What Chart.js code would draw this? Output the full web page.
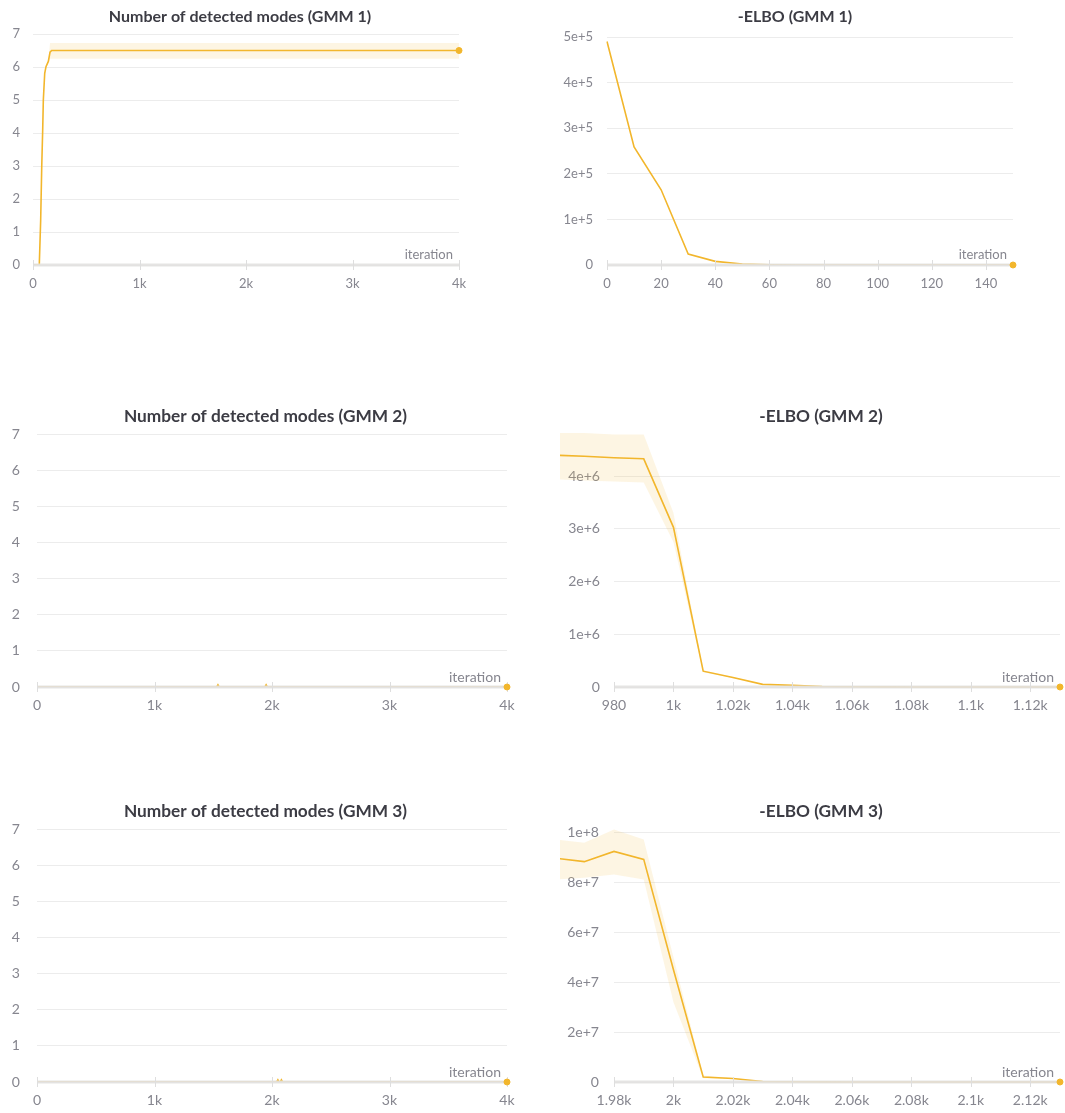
<!DOCTYPE html>
<html>
<head>
<meta charset="utf-8">
<script src="https://cdn.jsdelivr.net/npm/chart.js@4.4.1/dist/chart.umd.min.js"></script>
<style>
  html, body { margin: 0; padding: 0; background: #fff; overflow: hidden; }
  body { width: 1065px; height: 1113px; position: relative; }
  canvas { position: absolute; }
</style>
</head>
<body>
<canvas id="modes1"></canvas>
<canvas id="elbo1"></canvas>
<canvas id="modes2"></canvas>
<canvas id="elbo2"></canvas>
<canvas id="modes3"></canvas>
<canvas id="elbo3"></canvas>
<script>
// ---------- data ----------
// GMM 1: number of detected modes (mean over runs) and min/max band
const modes1Iter  = [0, 50, 59, 72, 82, 91, 97, 110, 122, 144, 160, 175, 1000, 2000, 3000, 4000];
const modes1Mean  = [0, 0, 0, 1.35, 2.97, 4.09, 5.0, 5.81, 6.01, 6.17, 6.45, 6.5, 6.5, 6.5, 6.5, 6.5];
const modes1BandIter  = [144, 160, 4000];
const modes1BandLower = [6.12, 6.25, 6.25];
const modes1BandUpper = [6.2, 6.73, 6.73];

// GMM 2 / GMM 3: number of detected modes
const modes2Iter = [0, 1530, 1540, 1550, 1940, 1950, 1960, 4000];
const modes2Mean = [0, 0, 0.06, 0, 0, 0.06, 0, 0];
const modes3Iter = [0, 2040, 2050, 2060, 2070, 2080, 2090, 4000];
const modes3Mean = [0, 0, 0.06, 0, 0, 0.06, 0, 0];

// -ELBO, GMM 1
const elbo1Iter = [0, 10, 20, 30, 40, 50, 60, 70, 80, 90, 100, 110, 120, 130, 140, 150];
const elbo1Mean = [490000, 259000, 165000, 24000, 8000, 2200, 500, 0, 0, 0, 0, 0, 0, 0, 0, 0];

// -ELBO, GMM 2
const elbo2Iter  = [960, 970, 980, 990, 1000, 1010, 1020, 1030, 1040, 1050, 1060, 1070, 1080, 1090, 1100, 1110, 1120, 1130];
const elbo2Mean  = [4.40e6, 4.38e6, 4.35e6, 4.33e6, 3.03e6, 3.0e5, 1.8e5, 5.0e4, 3.0e4, 1.0e4, 4000, 2000, 1000, 0, 0, 0, 0, 0];
const elbo2Lower = [3.94e6, 3.92e6, 3.90e6, 3.88e6, 2.75e6, 2.8e5, 1.7e5, 4.6e4, 2.8e4, 9000, 3500, 1800, 900, 0, 0, 0, 0, 0];
const elbo2Upper = [4.82e6, 4.82e6, 4.79e6, 4.79e6, 3.30e6, 3.2e5, 1.9e5, 5.4e4, 3.2e4, 1.1e4, 4500, 2200, 1100, 0, 0, 0, 0, 0];

// -ELBO, GMM 3
const elbo3Iter  = [1960, 1970, 1980, 1990, 2000, 2010, 2020, 2030, 2040, 2050, 2060, 2070, 2080, 2090, 2100, 2110, 2120, 2130];
const elbo3Mean  = [8.98e7, 8.84e7, 9.25e7, 8.93e7, 4.5e7, 2.0e6, 1.4e6, 2.0e5, 1.0e5, 5.0e4, 0, 0, 0, 0, 0, 0, 0, 0];
const elbo3Lower = [8.12e7, 8.19e7, 8.32e7, 8.12e7, 3.2e7, 1.5e6, 1.2e6, 1.6e5, 8.0e4, 4.0e4, 0, 0, 0, 0, 0, 0, 0, 0];
const elbo3Upper = [9.73e7, 9.60e7, 1.013e8, 9.73e7, 5.0e7, 2.6e6, 1.6e6, 2.4e5, 1.2e5, 6.0e4, 0, 0, 0, 0, 0, 0, 0, 0];

// ---------- tick values and labels ----------
const modesXTicks = [0, 1000, 2000, 3000, 4000];
const modesXLabels = ['0', '1k', '2k', '3k', '4k'];
const modesYTicks = [0, 1, 2, 3, 4, 5, 6, 7];
const modesYLabels = ['0', '1', '2', '3', '4', '5', '6', '7'];

const elbo1XTicks = [0, 20, 40, 60, 80, 100, 120, 140];
const elbo1XLabels = ['0', '20', '40', '60', '80', '100', '120', '140'];
const elbo1YTicks = [0, 1e5, 2e5, 3e5, 4e5, 5e5];
const elbo1YLabels = ['0', '1e+5', '2e+5', '3e+5', '4e+5', '5e+5'];

const elbo2XTicks = [980, 1000, 1020, 1040, 1060, 1080, 1100, 1120];
const elbo2XLabels = ['980', '1k', '1.02k', '1.04k', '1.06k', '1.08k', '1.1k', '1.12k'];
const elbo2YTicks = [0, 1e6, 2e6, 3e6, 4e6];
const elbo2YLabels = ['0', '1e+6', '2e+6', '3e+6', '4e+6'];

const elbo3XTicks = [1980, 2000, 2020, 2040, 2060, 2080, 2100, 2120];
const elbo3XLabels = ['1.98k', '2k', '2.02k', '2.04k', '2.06k', '2.08k', '2.1k', '2.12k'];
const elbo3YTicks = [0, 2e7, 4e7, 6e7, 8e7, 1e8];
const elbo3YLabels = ['0', '2e+7', '4e+7', '6e+7', '8e+7', '1e+8'];

// ---------- styling ----------
const LINE = 'rgb(242,182,44)';
const BAND = 'rgba(245,190,80,0.16)';
const GRID = '#ececec';
const TICK_TEXT = '#86868f';
const TITLE_TEXT = '#3c3c44';
const FONT = 'Lato, "Open Sans", sans-serif';
Chart.defaults.font.family = FONT;

const pts = (xs, ys) => xs.map((x, i) => ({ x, y: ys[i] }));

// panel heading, centred on the panel rather than on the plot area
const panelTitle = {
  id: 'panelTitle',
  afterDraw(chart, args, opts) {
    const { ctx } = chart;
    ctx.save();
    ctx.fillStyle = TITLE_TEXT;
    ctx.font = 'bold ' + opts.size + 'px ' + FONT;
    ctx.textAlign = 'center';
    ctx.textBaseline = 'middle';
    ctx.fillText(opts.text, opts.x, opts.y);
    ctx.restore();
  }
};

// thick zero line drawn over the series, with the small cross ticks and axis name
const axisOverlay = {
  id: 'axisOverlay',
  afterDatasetDraw(chart, args, opts) {
    if (args.index !== 2) return;
    const { ctx, scales: { x, y } } = chart;
    const y0 = y.getPixelForValue(0);
    ctx.save();
    ctx.strokeStyle = 'rgba(226,225,224,0.9)';
    ctx.lineWidth = 3;
    ctx.beginPath();
    ctx.moveTo(x.left, y0);
    ctx.lineTo(x.right, y0);
    ctx.stroke();
    ctx.strokeStyle = '#dedede';
    ctx.lineWidth = 1;
    x.ticks.forEach(t => {
      const px = Math.round(x.getPixelForValue(t.value)) + 0.5;
      ctx.beginPath();
      ctx.moveTo(px, y0 - 5);
      ctx.lineTo(px, y0 + 5);
      ctx.stroke();
    });
    ctx.fillStyle = TICK_TEXT;
    ctx.font = opts.size + 'px ' + FONT;
    ctx.textAlign = 'right';
    ctx.textBaseline = 'middle';
    ctx.fillText('iteration', x.right - 6, y0 - 10);
    ctx.restore();
  }
};

// lets the series run into the left margin (history before the x-axis start)
const extendLeft = {
  id: 'extendLeft',
  beforeDatasetsDraw(chart) { chart.$savedLeft = chart.chartArea.left; chart.chartArea.left = 0; },
  afterDatasetsDraw(chart) { chart.chartArea.left = chart.$savedLeft; }
};

function makeChart(p) {
  const canvas = document.getElementById(p.id);
  canvas.width = p.w; canvas.height = p.h;
  canvas.style.left = p.l + 'px'; canvas.style.top = p.t + 'px';
  canvas.style.width = p.w + 'px'; canvas.style.height = p.h + 'px';
  const last = p.iter.length - 1;
  const plugins = [axisOverlay, panelTitle];
  if (p.extend) plugins.unshift(extendLeft);
  const clip = p.extend ? false : undefined;
  const tickSize = 13 * p.fs;
  return new Chart(canvas, {
    type: 'line',
    data: {
      datasets: [
        { data: pts(p.bandIter || [], p.lower || []), borderWidth: 0, pointRadius: 0, fill: false, order: 3, clip },
        { data: pts(p.bandIter || [], p.upper || []), borderWidth: 0, pointRadius: 0, fill: '-1', backgroundColor: BAND, order: 2, clip },
        { data: pts(p.iter, p.mean), borderColor: LINE, borderWidth: 1.6, pointRadius: 0, fill: false, tension: 0, order: 1, clip },
        { data: [{ x: p.iter[last], y: p.mean[last] }], showLine: false, pointRadius: 3, pointBackgroundColor: LINE, pointBorderColor: LINE, pointBorderWidth: 1, order: 0, clip: false }
      ]
    },
    options: {
      responsive: false,
      animation: false,
      events: [],
      layout: { padding: { left: 0, top: p.area.t - p.t, bottom: 0, right: (p.l + p.w) - p.area.r } },
      plugins: {
        legend: { display: false },
        tooltip: { enabled: false },
        title: { display: false },
        panelTitle: { text: p.title, x: p.titleX - p.l, y: p.titleY - p.t, size: 16 * p.fs },
        axisOverlay: { size: tickSize }
      },
      scales: {
        x: {
          type: 'linear', bounds: 'data',
          afterDataLimits: s => { s.min = p.xMin; s.max = p.xMax; },
          grid: { display: false, drawTicks: false },
          border: { display: false },
          afterBuildTicks: s => { s.ticks = p.xTicks.map(v => ({ value: v })); },
          afterFit: s => { s.height = (p.t + p.h) - p.area.b; },
          ticks: {
            autoSkip: false, maxRotation: 0, padding: 11 - (tickSize - 13) * 0.6, color: TICK_TEXT, font: { size: tickSize },
            callback: v => p.xLabels[p.xTicks.indexOf(v)]
          }
        },
        y: {
          type: 'linear', min: 0, max: p.yMax,
          grid: { color: GRID, lineWidth: 1, drawTicks: false },
          border: { display: false },
          afterBuildTicks: s => { s.ticks = p.yTicks.map(v => ({ value: v })); },
          afterFit: s => { s.width = p.area.l - p.l; },
          ticks: {
            autoSkip: false, padding: p.yPad, color: TICK_TEXT, font: { size: tickSize },
            callback: v => p.yLabels[p.yTicks.indexOf(v)]
          }
        }
      }
    },
    plugins
  });
}

makeChart({
  id: 'modes1', title: 'Number of detected modes (GMM 1)', fs: 1,
  l: 0, t: 0, w: 480, h: 300, titleX: 240, titleY: 17, area: { l: 33, r: 459, t: 34, b: 265 }, yPad: 13,
  iter: modes1Iter, mean: modes1Mean, bandIter: modes1BandIter, lower: modes1BandLower, upper: modes1BandUpper,
  xMin: 0, xMax: 4000, yMax: 7,
  xTicks: modesXTicks, xLabels: modesXLabels, yTicks: modesYTicks, yLabels: modesYLabels
});
makeChart({
  id: 'elbo1', title: '-ELBO (GMM 1)', fs: 1,
  l: 540, t: 0, w: 510, h: 300, titleX: 795, titleY: 17, area: { l: 607, r: 1013, t: 37, b: 265 }, yPad: 14,
  iter: elbo1Iter, mean: elbo1Mean,
  xMin: 0, xMax: 150, yMax: 5e5,
  xTicks: elbo1XTicks, xLabels: elbo1XLabels, yTicks: elbo1YTicks, yLabels: elbo1YLabels
});
makeChart({
  id: 'modes2', title: 'Number of detected modes (GMM 2)', fs: 1.08,
  l: 0, t: 395, w: 531, h: 335, titleX: 265.5, titleY: 416, area: { l: 37, r: 507, t: 434, b: 687 }, yPad: 17,
  iter: modes2Iter, mean: modes2Mean,
  xMin: 0, xMax: 4000, yMax: 7,
  xTicks: modesXTicks, xLabels: modesXLabels, yTicks: modesYTicks, yLabels: modesYLabels
});
makeChart({
  id: 'elbo2', title: '-ELBO (GMM 2)', extend: true, fs: 1.08,
  l: 560, t: 395, w: 505, h: 335, titleX: 821, titleY: 416, area: { l: 614, r: 1062, t: 433, b: 687 }, yPad: 14,
  iter: elbo2Iter, mean: elbo2Mean, bandIter: elbo2Iter, lower: elbo2Lower, upper: elbo2Upper,
  xMin: 980, xMax: 1130, yMax: 4.82e6,
  xTicks: elbo2XTicks, xLabels: elbo2XLabels, yTicks: elbo2YTicks, yLabels: elbo2YLabels
});
makeChart({
  id: 'modes3', title: 'Number of detected modes (GMM 3)', fs: 1.08,
  l: 0, t: 790, w: 531, h: 323, titleX: 265.5, titleY: 811, area: { l: 37, r: 507, t: 829, b: 1082 }, yPad: 17,
  iter: modes3Iter, mean: modes3Mean,
  xMin: 0, xMax: 4000, yMax: 7,
  xTicks: modesXTicks, xLabels: modesXLabels, yTicks: modesYTicks, yLabels: modesYLabels
});
makeChart({
  id: 'elbo3', title: '-ELBO (GMM 3)', extend: true, fs: 1.08,
  l: 560, t: 790, w: 505, h: 323, titleX: 821, titleY: 811, area: { l: 614, r: 1062, t: 829, b: 1082 }, yPad: 15,
  iter: elbo3Iter, mean: elbo3Mean, bandIter: elbo3Iter, lower: elbo3Lower, upper: elbo3Upper,
  xMin: 1980, xMax: 2130, yMax: 1.015e8,
  xTicks: elbo3XTicks, xLabels: elbo3XLabels, yTicks: elbo3YTicks, yLabels: elbo3YLabels
});
</script>
</body>
</html>
